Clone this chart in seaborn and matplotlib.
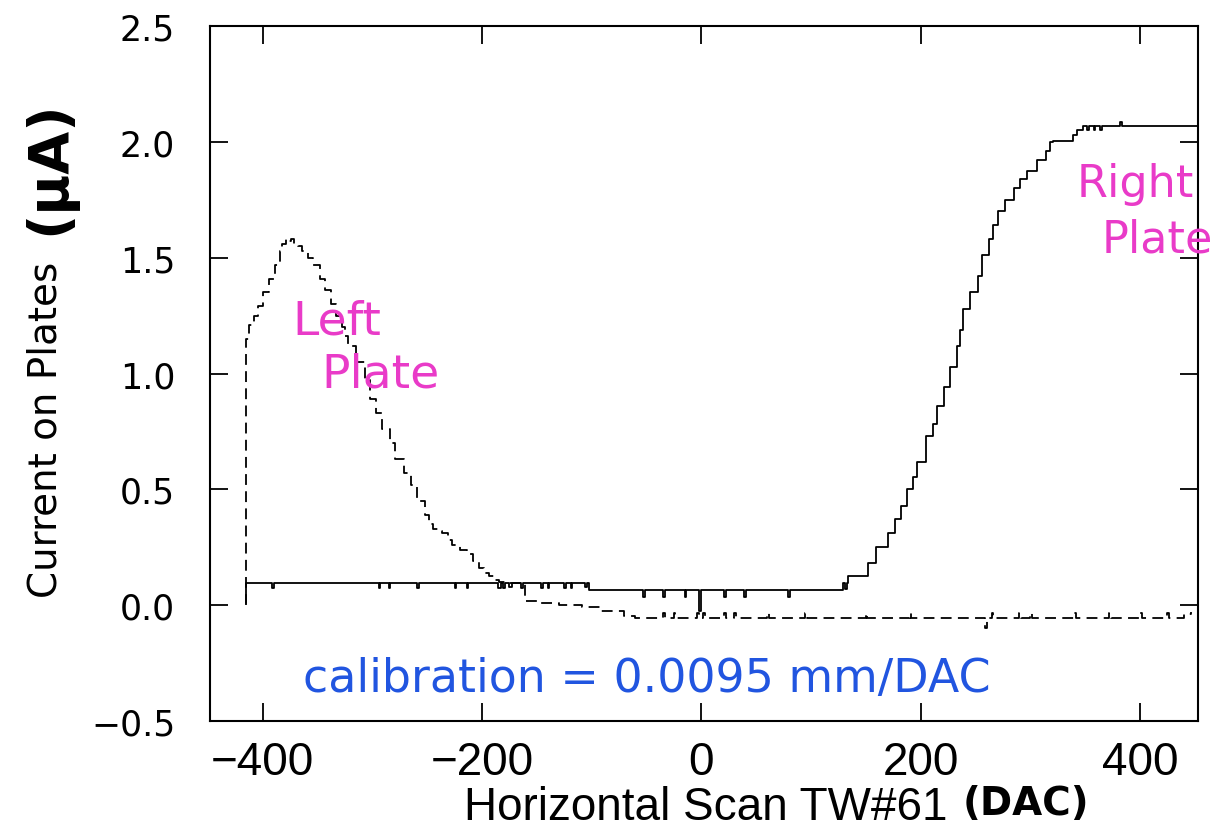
import numpy as np
import pandas as pd
import matplotlib
matplotlib.use("Agg")
import matplotlib.pyplot as plt
import seaborn as sns

# Horizontal scan positions (DAC) and plate currents (uA)
right_x = [-415, -415, -391, -389.5, -294, -292.5, -285, -283.5, -259, -257.5,
           -225, -223.5, -214, -212.5, -185, -183, -181, -179, -175, -173,
           -164, -162.5, -146, -144.5, -140, -138.5, -125, -123.5, -119, -117.5,
           -106, -104.5, -102, -53, -51.5, -35, -33.5, -15, -13.5, -2,
           -0.5, 21, 22.5, 39, 40.5, 79, 80.5, 129, 131, 132.5,
           134, 152, 159, 170, 177, 182, 188, 193, 197, 205,
           211, 215, 221, 227, 233, 236, 239, 245, 252, 256,
           262, 266, 271, 277, 285, 291, 297, 306, 314, 318,
           321, 339, 343, 348, 352, 353.5, 358, 359.5, 364, 365.5,
           382, 383.5, 453]
right_y = [0.01, 0.095, 0.075, 0.095, 0.075, 0.095, 0.075, 0.095, 0.075, 0.095,
           0.075, 0.095, 0.075, 0.095, 0.075, 0.095, 0.075, 0.095, 0.08, 0.095,
           0.075, 0.095, 0.075, 0.095, 0.075, 0.095, 0.075, 0.095, 0.075, 0.095,
           0.08, 0.095, 0.065, 0.035, 0.065, 0.035, 0.065, 0.035, 0.065, -0.025,
           0.065, 0.035, 0.065, 0.035, 0.065, 0.035, 0.065, 0.095, 0.07, 0.095,
           0.125, 0.18, 0.25, 0.31, 0.37, 0.43, 0.50, 0.555, 0.62, 0.73,
           0.78, 0.86, 0.94, 1.03, 1.12, 1.19, 1.28, 1.35, 1.42, 1.51,
           1.58, 1.64, 1.70, 1.75, 1.80, 1.84, 1.875, 1.92, 1.96, 2.0,
           2.005, 2.03, 2.05, 2.07, 2.05, 2.07, 2.05, 2.07, 2.05, 2.07,
           2.085, 2.07, 2.065]

left_x = [-415, -415, -412, -408, -404, -400, -394, -389, -384, -382,
          -379, -377, -374, -371, -368, -364, -359, -354, -348, -343,
          -338, -333, -328, -325, -322, -315, -307, -302, -297, -291,
          -284, -279, -271, -265, -259, -252, -248, -245, -240, -236,
          -231, -227, -220, -214, -208, -203, -198, -194, -189, -184,
          -175, -164, -161, -148, -130, -109, -91, -70, -60, -35,
          -33.5, -25, -23.5, -4, -2.5, 2, 3.5, 21, 22.5, 30,
          31.5, 60, 61.5, 95, 96.5, 150, 151.5, 190, 191.5, 259,
          260.5, 265, 266.5, 290, 291.5, 300, 301.5, 340, 341.5, 372,
          373.5, 400, 401.5, 425, 426.5, 440, 447]
left_y = [0.0, 1.15, 1.21, 1.25, 1.29, 1.35, 1.41, 1.47, 1.53, 1.56,
          1.58, 1.57, 1.58, 1.56, 1.55, 1.53, 1.50, 1.47, 1.41, 1.36,
          1.30, 1.25, 1.20, 1.16, 1.12, 1.05, 0.97, 0.89, 0.83, 0.76,
          0.70, 0.63, 0.57, 0.52, 0.45, 0.39, 0.35, 0.33, 0.32, 0.31,
          0.28, 0.26, 0.24, 0.22, 0.19, 0.16, 0.14, 0.125, 0.11, 0.10,
          0.095, 0.09, 0.02, 0.01, 0.0, -0.01, -0.025, -0.045, -0.055, -0.035,
          -0.055, -0.035, -0.055, -0.035, -0.055, -0.035, -0.055, -0.035, -0.055, -0.035,
          -0.055, -0.035, -0.055, -0.035, -0.055, -0.035, -0.055, -0.035, -0.055, -0.1,
          -0.055, -0.035, -0.055, -0.035, -0.055, -0.035, -0.055, -0.035, -0.055, -0.035,
          -0.055, -0.035, -0.055, -0.035, -0.055, -0.04, -0.03]

x_ticks = [-400, -200, 0, 200, 400]
y_ticks = [-0.5, 0.0, 0.5, 1.0, 1.5, 2.0, 2.5]

sns.set_style("ticks")
plt.rcParams["font.family"] = ["DejaVu Sans"]
plt.rcParams.update({
    "axes.linewidth": 1.5,
    "axes.edgecolor": "black",
    "text.color": "black",
    "xtick.color": "black",
    "ytick.color": "black",
})

fig = plt.figure(figsize=(12.3, 8.37), dpi=100)
ax = fig.add_axes([0.1707, 0.1374, 0.8033, 0.8303])

right_df = pd.DataFrame({"dac": right_x, "current": right_y})
left_df = pd.DataFrame({"dac": left_x, "current": left_y})

sns.lineplot(data=right_df, x="dac", y="current", ax=ax, estimator=None, sort=False,
             color="black", lw=1.3, drawstyle="steps-post")
sns.lineplot(data=left_df, x="dac", y="current", ax=ax, estimator=None, sort=False,
             color="black", lw=1.3, drawstyle="steps-post", linestyle=(0, (6, 3.5)))

ax.set_xlim(-448, 453)
ax.set_ylim(-0.5, 2.5)
ax.set_xticks(x_ticks)
ax.set_yticks(y_ticks)
ax.set_xticklabels([f"{v:d}".replace("-", "\u2212") for v in x_ticks],
                   family=["Liberation Sans", "DejaVu Sans"], fontsize=33)
ax.set_yticklabels([f"{v:.1f}".replace("-", "\u2212") for v in y_ticks], fontsize=25)
ax.tick_params(direction="in", length=13, width=1.3, top=True, right=True)
ax.tick_params(axis="x", pad=14)
ax.tick_params(axis="y", pad=25)
ax.set_xlabel("")
ax.set_ylabel("")

# axis titles, with the unit written in a heavier hand
fig.text(0.0366, 0.486, "Current on Plates", rotation=90, fontsize=28,
         ha="center", va="center")
fig.text(0.040, 0.800, "(\u03bcA)", rotation=90, fontsize=40, fontweight="heavy",
         ha="center", va="center")
fig.text(0.574, 0.035, "Horizontal Scan TW#61", fontsize=33,
         family=["Liberation Sans", "DejaVu Sans"], ha="center", va="center")
fig.text(0.834, 0.040, "(DAC)", fontsize=28, fontweight="heavy",
         ha="center", va="center")

# plate annotations
pink = "#e93bc8"
ax.text(-332.7, 1.228, "Left", color=pink, fontsize=34, ha="center", va="center", clip_on=False)
ax.text(-292.7, 1.0, "Plate", color=pink, fontsize=34, ha="center", va="center", clip_on=False)
ax.text(395.5, 1.819, "Right", color=pink, fontsize=32, ha="center", va="center", clip_on=False)
ax.text(416, 1.582, "Plate", color=pink, fontsize=32, ha="center", va="center", clip_on=False)
ax.text(-50, -0.315, "calibration = 0.0095 mm/DAC", color="#2155e0", fontsize=33,
        ha="center", va="center")

fig.savefig("out.png", dpi=100)
